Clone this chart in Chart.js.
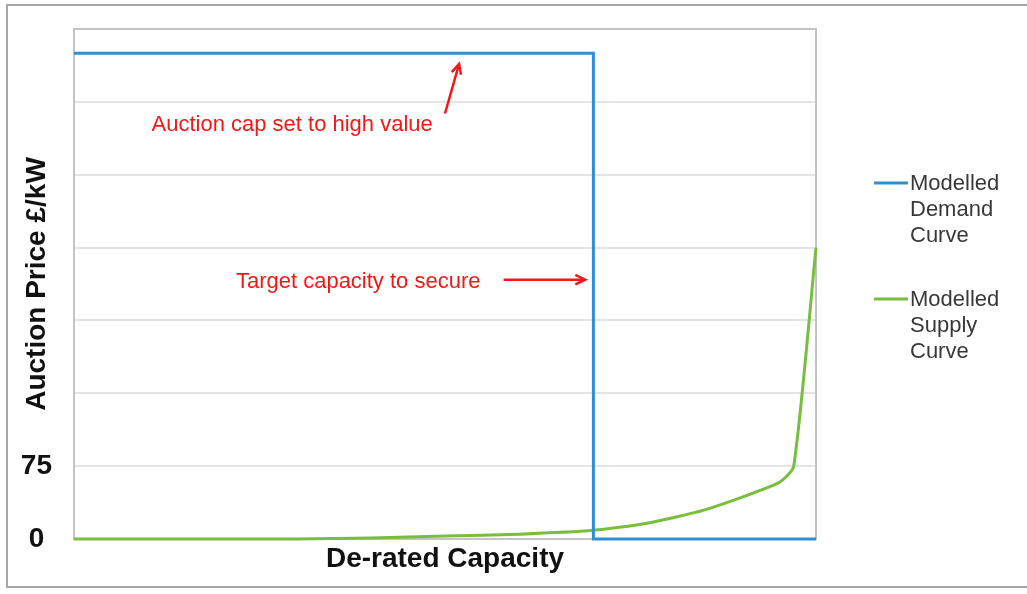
<!DOCTYPE html>
<html><head><meta charset="utf-8">
<script src="https://cdn.jsdelivr.net/npm/chart.js@4.4.1/dist/chart.umd.min.js"></script>
<style>html,body{margin:0;padding:0;background:#fff;overflow:hidden}</style>
</head><body>
<canvas id="c" width="1027" height="594"></canvas>
<script>
// ---- data ----
const demandX = [0, 70, 70, 100];
const demandY = [500, 500, 0, 0];
const supplyX = [0, 30, 40, 50, 60, 70, 77, 85, 95, 97, 100];
const supplyY = [0, 0, 1, 3, 5, 9, 16, 30, 58, 75, 300];
const yTickLabels = [0, 75];
const seriesLabels = ["Modelled Demand Curve", "Modelled Supply Curve"];
const seriesColors = ["#2f8fd3", "#79be3f"];
const xTitle = "De-rated Capacity";
const yTitle = "Auction Price £/kW";
const noteTexts = ["Auction cap set to high value", "Target capacity to secure"];
const noteAnchors = [[29.4, 420], [38.3, 258]];            // data coords (x, baseline value)
const arrowFrom = [[50.0, 438], [57.9, 267]];
const arrowTo = [[51.9, 489], [68.9, 267]];

const FONT = "'Liberation Sans', Arial, sans-serif";

const toPts = (xs, ys) => xs.map((x, i) => ({x: x, y: ys[i]}));

const framePlugin = {
  id: 'frame',
  beforeDraw(chart) {
    const ctx = chart.ctx;
    ctx.save();
    ctx.fillStyle = '#fff';
    ctx.fillRect(0, 0, chart.width, chart.height);
    ctx.strokeStyle = '#a6a6a6';
    ctx.lineWidth = 2;
    ctx.strokeRect(7, 5, chart.width + 20, chart.height - 12);
    ctx.restore();
  },
  beforeDatasetsDraw(chart) {
    const {ctx, chartArea: a} = chart;
    ctx.save();
    ctx.strokeStyle = '#c4c4c4';
    ctx.lineWidth = 2;
    ctx.strokeRect(a.left, a.top, a.right - a.left, a.bottom - a.top);
    ctx.restore();
  },
  afterDatasetsDraw(chart) {
    const {ctx, scales: {x, y}} = chart;
    ctx.save();
    // annotations
    ctx.fillStyle = '#f01818';
    ctx.font = '22px ' + FONT;
    ctx.textAlign = 'center';
    ctx.textBaseline = 'alphabetic';
    noteTexts.forEach((t, i) => {
      ctx.fillText(t, x.getPixelForValue(noteAnchors[i][0]), y.getPixelForValue(noteAnchors[i][1]));
    });
    ctx.strokeStyle = '#f01818';
    ctx.fillStyle = '#f01818';
    ctx.lineWidth = 2.5;
    arrowFrom.forEach((f, i) => {
      const x1 = x.getPixelForValue(f[0]), y1 = y.getPixelForValue(f[1]);
      const x2 = x.getPixelForValue(arrowTo[i][0]), y2 = y.getPixelForValue(arrowTo[i][1]);
      const ang = Math.atan2(y2 - y1, x2 - x1);
      const hl = 11;
      ctx.beginPath();
      ctx.moveTo(x1, y1);
      ctx.lineTo(x2 - Math.cos(ang) * 3, y2 - Math.sin(ang) * 3);
      ctx.stroke();
      ctx.beginPath();
      ctx.moveTo(x2 - hl * Math.cos(ang - 0.45), y2 - hl * Math.sin(ang - 0.45));
      ctx.lineTo(x2, y2);
      ctx.lineTo(x2 - hl * Math.cos(ang + 0.45), y2 - hl * Math.sin(ang + 0.45));
      ctx.stroke();
    });
    ctx.restore();
  },
  afterDraw(chart) {
    const ctx = chart.ctx;
    ctx.save();
    ctx.font = '22px ' + FONT;
    ctx.textAlign = 'left';
    ctx.textBaseline = 'alphabetic';
    const baseY = [190, 306];
    chart.data.datasets.forEach((ds, i) => {
      ctx.strokeStyle = ds.borderColor;
      ctx.lineWidth = 3;
      ctx.beginPath();
      ctx.moveTo(874, baseY[i] - 7);
      ctx.lineTo(908, baseY[i] - 7);
      ctx.stroke();
      ctx.fillStyle = '#383838';
      ds.label.split(' ').forEach((w, j) => ctx.fillText(w, 910, baseY[i] + j * 26));
    });
    ctx.restore();
  }
};

new Chart(document.getElementById('c'), {
  type: 'line',
  data: {
    datasets: [
      {label: seriesLabels[0], data: toPts(demandX, demandY), borderColor: seriesColors[0], borderWidth: 3, pointRadius: 0, fill: false, clip: false, tension: 0},
      {label: seriesLabels[1], data: toPts(supplyX, supplyY), borderColor: seriesColors[1], borderWidth: 3, pointRadius: 0, fill: false, clip: false, tension: 0.2}
    ]
  },
  options: {
    responsive: false,
    animation: false,
    devicePixelRatio: 1,
    layout: {padding: {left: 0, top: 29, right: 211, bottom: 0}},
    plugins: {legend: {display: false}, tooltip: {enabled: false}},
    scales: {
      x: {
        type: 'linear', min: 0, max: 100,
        grid: {display: false, drawTicks: false},
        border: {display: false},
        ticks: {display: false},
        title: {display: true, text: xTitle, color: '#111', font: {family: FONT, size: 28, weight: 'bold'}, padding: {top: 0, bottom: 18}},
        afterFit(s) { s.height = 55; s.paddingLeft = 0; s.paddingRight = 0; }
      },
      y: {
        min: 0, max: 525,
        grid: {color: '#e4e4e4', lineWidth: 2, drawTicks: false},
        border: {display: false},
        ticks: {
          stepSize: 75, padding: 22, crossAlign: 'center', color: '#111',
          font: {family: FONT, size: 28, weight: 'bold'},
          callback: v => yTickLabels.includes(v) ? String(v) : ''
        },
        title: {display: true, text: yTitle, color: '#111', font: {family: FONT, size: 28, weight: 'bold'}, padding: {top: 20, bottom: 0}},
        afterFit(s) { s.width = 74; s.paddingTop = 0; s.paddingBottom = 0; }
      }
    }
  },
  plugins: [framePlugin]
});
</script>
</body></html>
